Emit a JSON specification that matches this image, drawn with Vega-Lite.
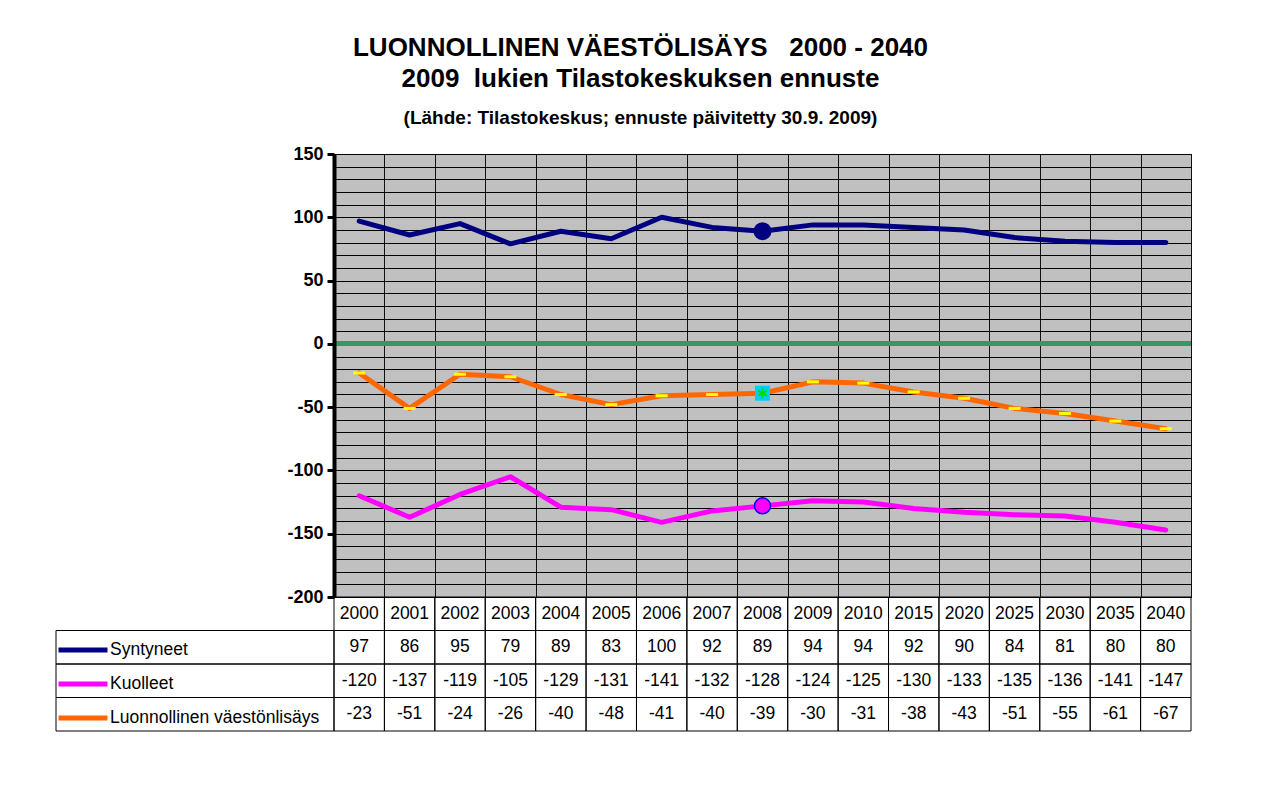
{
  "$schema": "https://vega.github.io/schema/vega-lite/v6.json",
  "padding": {"left": 55, "top": 34, "right": 20, "bottom": 20},
  "background": "white",
  "config": {"font": "Liberation Sans", "view": {"stroke": null}},
  "title": {
    "text": ["LUONNOLLINEN VÄESTÖLISÄYS\u00a0\u00a0 2000 - 2040", "2009\u00a0 lukien Tilastokeskuksen ennuste"],
    "subtitle": "(Lähde: Tilastokeskus; ennuste päivitetty 30.9. 2009)",
    "anchor": "middle",
    "font": "Liberation Sans",
    "fontSize": 26,
    "fontWeight": "bold",
    "lineHeight": 31,
    "color": "black",
    "subtitleFont": "Liberation Sans",
    "subtitleFontSize": 19,
    "subtitleFontWeight": "bold",
    "subtitleColor": "black",
    "subtitlePadding": 17,
    "offset": 17,
    "dx": 16
  },
  "datasets": {
    "d": [
      {"year": "2000", "series": "Syntyneet", "value": 97},
      {"year": "2001", "series": "Syntyneet", "value": 86},
      {"year": "2002", "series": "Syntyneet", "value": 95},
      {"year": "2003", "series": "Syntyneet", "value": 79},
      {"year": "2004", "series": "Syntyneet", "value": 89},
      {"year": "2005", "series": "Syntyneet", "value": 83},
      {"year": "2006", "series": "Syntyneet", "value": 100},
      {"year": "2007", "series": "Syntyneet", "value": 92},
      {"year": "2008", "series": "Syntyneet", "value": 89},
      {"year": "2009", "series": "Syntyneet", "value": 94},
      {"year": "2010", "series": "Syntyneet", "value": 94},
      {"year": "2015", "series": "Syntyneet", "value": 92},
      {"year": "2020", "series": "Syntyneet", "value": 90},
      {"year": "2025", "series": "Syntyneet", "value": 84},
      {"year": "2030", "series": "Syntyneet", "value": 81},
      {"year": "2035", "series": "Syntyneet", "value": 80},
      {"year": "2040", "series": "Syntyneet", "value": 80},
      {"year": "2000", "series": "Kuolleet", "value": -120},
      {"year": "2001", "series": "Kuolleet", "value": -137},
      {"year": "2002", "series": "Kuolleet", "value": -119},
      {"year": "2003", "series": "Kuolleet", "value": -105},
      {"year": "2004", "series": "Kuolleet", "value": -129},
      {"year": "2005", "series": "Kuolleet", "value": -131},
      {"year": "2006", "series": "Kuolleet", "value": -141},
      {"year": "2007", "series": "Kuolleet", "value": -132},
      {"year": "2008", "series": "Kuolleet", "value": -128},
      {"year": "2009", "series": "Kuolleet", "value": -124},
      {"year": "2010", "series": "Kuolleet", "value": -125},
      {"year": "2015", "series": "Kuolleet", "value": -130},
      {"year": "2020", "series": "Kuolleet", "value": -133},
      {"year": "2025", "series": "Kuolleet", "value": -135},
      {"year": "2030", "series": "Kuolleet", "value": -136},
      {"year": "2035", "series": "Kuolleet", "value": -141},
      {"year": "2040", "series": "Kuolleet", "value": -147},
      {"year": "2000", "series": "Luonnollinen väestönlisäys", "value": -23},
      {"year": "2001", "series": "Luonnollinen väestönlisäys", "value": -51},
      {"year": "2002", "series": "Luonnollinen väestönlisäys", "value": -24},
      {"year": "2003", "series": "Luonnollinen väestönlisäys", "value": -26},
      {"year": "2004", "series": "Luonnollinen väestönlisäys", "value": -40},
      {"year": "2005", "series": "Luonnollinen väestönlisäys", "value": -48},
      {"year": "2006", "series": "Luonnollinen väestönlisäys", "value": -41},
      {"year": "2007", "series": "Luonnollinen väestönlisäys", "value": -40},
      {"year": "2008", "series": "Luonnollinen väestönlisäys", "value": -39},
      {"year": "2009", "series": "Luonnollinen väestönlisäys", "value": -30},
      {"year": "2010", "series": "Luonnollinen väestönlisäys", "value": -31},
      {"year": "2015", "series": "Luonnollinen väestönlisäys", "value": -38},
      {"year": "2020", "series": "Luonnollinen väestönlisäys", "value": -43},
      {"year": "2025", "series": "Luonnollinen väestönlisäys", "value": -51},
      {"year": "2030", "series": "Luonnollinen väestönlisäys", "value": -55},
      {"year": "2035", "series": "Luonnollinen väestönlisäys", "value": -61},
      {"year": "2040", "series": "Luonnollinen väestönlisäys", "value": -67}
    ]
  },
  "columns": 2,
  "bounds": "flush",
  "spacing": 0,
  "concat": [
    {
      "width": 278,
      "height": 443,
      "data": {"values": []},
      "mark": "point"
    },
    {
      "width": 857,
      "height": 443,
      "data": {"name": "d"},
      "view": {"fill": "#C0C0C0", "stroke": "black", "strokeWidth": 1},
      "encoding": {
        "x": {
          "field": "year",
          "type": "ordinal",
          "sort": null,
          "scale": {"paddingInner": 0, "paddingOuter": 0},
          "axis": {"title": null, "labels": false, "ticks": false, "domain": false, "grid": true, "gridColor": "#111", "gridWidth": 1, "gridOpacity": 1, "tickBand": "extent"}
        }
      },
      "layer": [
        {
          "mark": {"type": "rule", "color": "#339966", "strokeWidth": 4},
          "encoding": {
            "x": null,
            "y": {
              "datum": 0,
              "type": "quantitative",
              "scale": {"domain": [-200, 150], "nice": false, "zero": false},
              "axis": {"orient": "left", "title": null, "values": [-200,-190,-180,-170,-160,-150,-140,-130,-120,-110,-100,-90,-80,-70,-60,-50,-40,-30,-20,-10,0,10,20,30,40,50,60,70,80,90,100,110,120,130,140,150], "labels": false, "ticks": false, "domain": false, "grid": true, "gridColor": "black", "gridWidth": 1, "gridOpacity": 1, "zindex": 0}
            }
          }
        },
        {
          "mark": {"type": "line", "strokeWidth": 5, "strokeJoin": "round", "strokeCap": "round"},
          "encoding": {
            "y": {"field": "value", "type": "quantitative", "axis": null},
            "color": {
              "field": "series",
              "type": "nominal",
              "sort": null,
              "scale": {"domain": ["Syntyneet", "Kuolleet", "Luonnollinen väestönlisäys"], "range": ["#000080", "#FF00FF", "#FF6600"]},
              "legend": {
                "orient": "none",
                "legendX": 0,
                "legendY": 479,
                "title": null,
                "symbolType": "stroke",
                "symbolStrokeWidth": 5,
                "symbolSize": 2401,
                "labelFontSize": 17.5,
                "labelColor": "black",
                "labelFont": "Liberation Sans",
                "labelOffset": 0,
                "clipHeight": 34,
                "rowPadding": 0,
                "padding": 0,
                "labelLimit": 300
              }
            }
          }
        },
        {
          "transform": [{"filter": "datum.series === 'Luonnollinen väestönlisäys' && datum.year !== '2008'"}],
          "mark": {"type": "point", "shape": "M-1,-0.25H1V0.25H-1Z", "filled": true, "color": "#FFFF00", "size": 144, "opacity": 1},
          "encoding": {"y": {"field": "value", "type": "quantitative", "axis": null}}
        },
        {
          "transform": [{"filter": "datum.series === 'Syntyneet' && datum.year === '2008'"}],
          "mark": {"type": "point", "shape": "circle", "filled": true, "color": "#000080", "size": 324, "opacity": 1},
          "encoding": {"y": {"field": "value", "type": "quantitative", "axis": null}}
        },
        {
          "transform": [{"filter": "datum.series === 'Kuolleet' && datum.year === '2008'"}],
          "mark": {"type": "point", "shape": "circle", "filled": true, "fill": "#FF00FF", "stroke": "#0000FF", "strokeWidth": 1.5, "size": 256, "opacity": 1},
          "encoding": {"y": {"field": "value", "type": "quantitative", "axis": null}}
        },
        {
          "transform": [{"filter": "datum.series === 'Luonnollinen väestönlisäys' && datum.year === '2008'"}],
          "mark": {"type": "point", "shape": "square", "filled": true, "color": "#00CCFF", "size": 225, "opacity": 1},
          "encoding": {"y": {"field": "value", "type": "quantitative", "axis": null}}
        },
        {
          "transform": [{"filter": "datum.series === 'Luonnollinen väestönlisäys' && datum.year === '2008'"}],
          "mark": {"type": "point", "shape": "M0,-1V1M-0.87,-0.5L0.87,0.5M-0.87,0.5L0.87,-0.5", "filled": false, "stroke": "#00DD00", "strokeWidth": 2, "size": 100, "opacity": 1},
          "encoding": {
            "y": {
              "field": "value",
              "type": "quantitative",
              "axis": {"orient": "left", "title": null, "values": [-200, -150, -100, -50, 0, 50, 100, 150], "labelExpr": "'' + datum.value", "labelFontSize": 18, "labelFontWeight": "bold", "labelColor": "black", "labelPadding": 4, "labelOverlap": false, "tickSize": 7, "tickWidth": 3, "tickColor": "black", "domainColor": "black", "domainWidth": 4, "grid": false, "zindex": 1}
            }
          }
        }
      ],
      "resolve": {"axis": {"y": "independent"}}
    },
    {
      "width": 278,
      "height": 134,
      "data": {"name": "d"},
      "transform": [{"filter": "datum.year === '2000'"}],
      "mark": {"type": "rect", "fill": "transparent", "stroke": "black", "strokeWidth": 1},
      "encoding": {
        "y": {
          "field": "series",
          "type": "nominal",
          "scale": {"domain": ["vuosi", "Syntyneet", "Kuolleet", "Luonnollinen väestönlisäys"], "paddingInner": 0, "paddingOuter": 0},
          "axis": null
        }
      }
    },
    {
      "width": 857,
      "height": 134,
      "data": {"name": "d"},
      "encoding": {
        "x": {"field": "year", "type": "ordinal", "sort": null, "scale": {"paddingInner": 0, "paddingOuter": 0}, "axis": null}
      },
      "layer": [
        {
          "mark": {"type": "rect", "fill": "transparent", "stroke": "black", "strokeWidth": 1},
          "encoding": {
            "y": {
              "field": "series",
              "type": "nominal",
              "scale": {"domain": ["vuosi", "Syntyneet", "Kuolleet", "Luonnollinen väestönlisäys"], "paddingInner": 0, "paddingOuter": 0},
              "axis": null
            }
          }
        },
        {
          "transform": [{"filter": "datum.series === 'Syntyneet'"}],
          "mark": {"type": "rect", "fill": "transparent", "stroke": "black", "strokeWidth": 1},
          "encoding": {"y": {"datum": "vuosi", "type": "nominal"}}
        },
        {
          "mark": {"type": "text", "fontSize": 17.5, "color": "black", "align": "center", "baseline": "middle"},
          "encoding": {
            "y": {"field": "series", "type": "nominal"},
            "text": {"field": "value", "type": "nominal"}
          }
        },
        {
          "transform": [{"filter": "datum.series === 'Syntyneet'"}],
          "mark": {"type": "text", "fontSize": 17.5, "color": "black", "align": "center", "baseline": "middle"},
          "encoding": {
            "y": {"datum": "vuosi", "type": "nominal"},
            "text": {"field": "year", "type": "nominal"}
          }
        }
      ]
    }
  ]
}
